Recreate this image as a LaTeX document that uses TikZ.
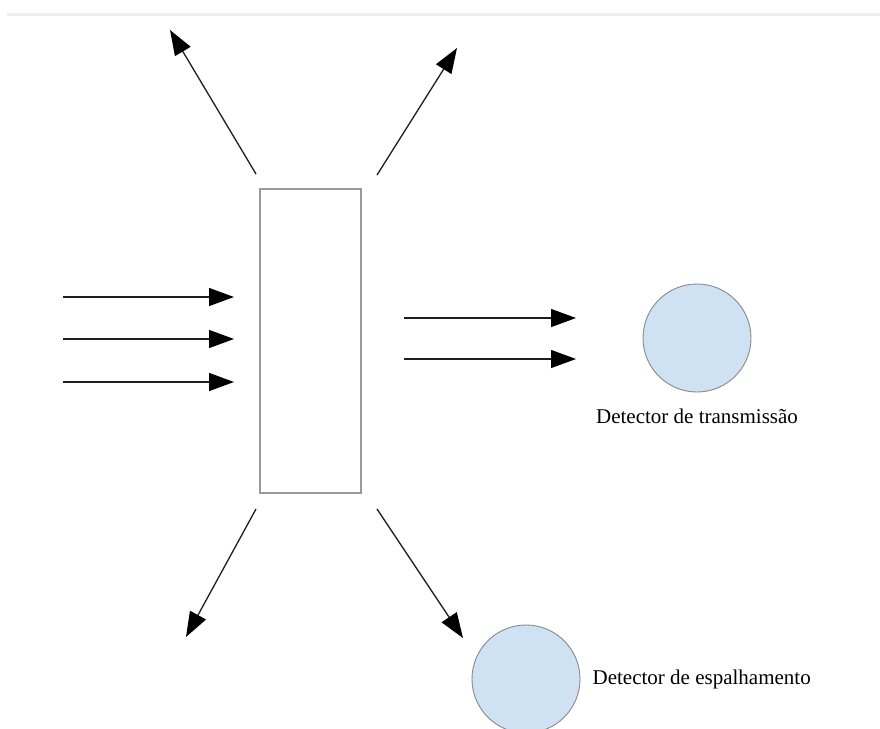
\documentclass[tikz,border=0pt]{standalone}
\usepackage{fontspec}
\setmainfont{Liberation Serif}
\usepackage{tikz}
\usetikzlibrary{arrows.meta, positioning}
\definecolor{beamgray}{HTML}{1E1E1E}
\definecolor{boxgray}{HTML}{9A9A9A}
\definecolor{detblue}{HTML}{CFE2F3}
\definecolor{detedge}{HTML}{888888}
\definecolor{rulegray}{HTML}{EEEEEE}
\tikzset{
  % Sample slab
  sample/.style={
    rectangle, draw=boxgray, line width=1.2pt, fill=white,
    minimum width=101pt, minimum height=304pt, inner sep=0pt
  },
  % Detectors
  detector/.style={
    circle, draw=detedge, line width=0.9pt, fill=detblue,
    minimum size=108pt, inner sep=0pt
  },
  % Beam arrows
  beam/.style={-{Triangle[length=25pt, width=18pt, color=black]}, line width=1.3pt, color=beamgray},
  % Labels
  detlabel/.style={font=\fontsize{21}{24}\selectfont, text=black, inner sep=0pt},
}

\begin{document}
\begin{tikzpicture}[x=1pt, y=-1pt]

  \useasboundingbox (0,0) rectangle (880,728);
  \draw[rulegray, line width=3pt] (7,14) -- (880,14);

  % Sample and detectors
  \node[sample] (slab) at (310.5,341) {};
  \node[detector] (dettrans) at (697,338) {};
  \node[detector] (detesp) at (526,679) {};
  \node[detlabel, below=16pt of dettrans] (lbltrans) {Detector de transmissão};
  \node[detlabel, right=12pt of detesp] (lblesp) {Detector de espalhamento};

  % Incoming beam
  \foreach \y [count=\i] in {297,339,382} {
    \coordinate (src\i) at (63,\y);
    \coordinate (hit\i) at (234,\y);
    \draw[beam] (src\i) -- (hit\i);
  }

  % Transmitted beam
  \foreach \y [count=\i] in {318,359} {
    \coordinate (out\i) at (404,\y);
    \coordinate (tr\i) at (576,\y);
    \draw[beam] (out\i) -- (tr\i);
  }

  % Scattered beam
  \coordinate (ulfrom) at (256,174);
  \coordinate (ulto) at (170,30);
  \coordinate (urfrom) at (377,175);
  \coordinate (urto) at (457,48);
  \coordinate (llfrom) at (256,509);
  \coordinate (llto) at (186,637);
  \coordinate (lrfrom) at (377,509);
  \coordinate (lrto) at (463,638);
  \draw[beam] (ulfrom) -- (ulto);
  \draw[beam] (urfrom) -- (urto);
  \draw[beam] (llfrom) -- (llto);
  \draw[beam] (lrfrom) -- (lrto);

\end{tikzpicture}
\end{document}
